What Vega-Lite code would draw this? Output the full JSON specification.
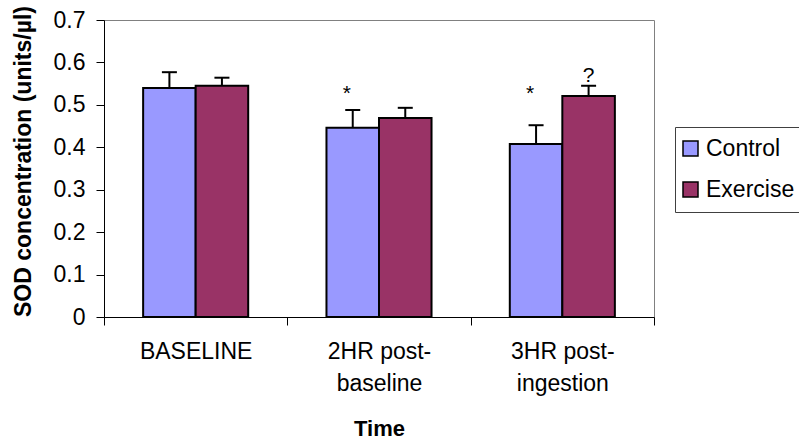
{
  "$schema": "https://vega.github.io/schema/vega-lite/v6.json",
  "width": 550,
  "height": 297,
  "autosize": {"type": "none"},
  "padding": {"left": 104, "top": 20, "right": 145, "bottom": 125},
  "background": "white",
  "config": {
    "view": {"stroke": "#808080", "strokeWidth": 1},
    "font": "Liberation Sans"
  },
  "datasets": {
    "bars": [
      {"time": "BASELINE", "group": "Control", "value": 0.540, "upper": 0.577},
      {"time": "BASELINE", "group": "Exercise", "value": 0.545, "upper": 0.564},
      {"time": "2HR post-baseline", "group": "Control", "value": 0.446, "upper": 0.488},
      {"time": "2HR post-baseline", "group": "Exercise", "value": 0.469, "upper": 0.493},
      {"time": "3HR post-ingestion", "group": "Control", "value": 0.408, "upper": 0.452},
      {"time": "3HR post-ingestion", "group": "Exercise", "value": 0.521, "upper": 0.545}
    ],
    "notes": [
      {"time": "2HR post-baseline", "group": "Control", "symbol": "*", "pos": 0.512},
      {"time": "3HR post-ingestion", "group": "Control", "symbol": "*", "pos": 0.512},
      {"time": "3HR post-ingestion", "group": "Exercise", "symbol": "?", "pos": 0.555}
    ]
  },
  "encoding": {
    "x": {
      "field": "time",
      "type": "nominal",
      "sort": ["BASELINE", "2HR post-baseline", "3HR post-ingestion"],
      "scale": {"paddingInner": 0, "paddingOuter": 0},
      "title": "Time",
      "axis": {
        "labelExpr": "datum.value == '2HR post-baseline' ? ['2HR post-', 'baseline'] : datum.value == '3HR post-ingestion' ? ['3HR post-', 'ingestion'] : datum.value",
        "tickBand": "extent",
        "tickSize": 8,
        "labelPadding": 15,
        "labelAngle": 0,
        "labelFontSize": 23,
        "labelLineHeight": 32,
        "labelColor": "black",
        "domainColor": "black",
        "tickColor": "black",
        "titleFontSize": 22,
        "titleFontWeight": "bold",
        "titleColor": "black",
        "titleY": 118,
        "titleBaseline": "alphabetic"
      }
    },
    "xOffset": {
      "field": "group",
      "type": "nominal",
      "sort": ["Control", "Exercise"],
      "scale": {"paddingInner": 0, "paddingOuter": 0.745}
    }
  },
  "layer": [
    {
      "data": {"name": "bars"},
      "mark": {"type": "bar", "stroke": "black", "strokeWidth": 2},
      "encoding": {
        "y": {
          "field": "value",
          "type": "quantitative",
          "title": "SOD concentration (units/µl)",
          "scale": {"domain": [0, 0.7], "nice": false},
          "axis": {
            "values": [0, 0.1, 0.2, 0.3, 0.4, 0.5, 0.6, 0.7],
            "format": ".1~f",
            "grid": false,
            "tickSize": 8,
            "labelPadding": 11,
            "labelFontSize": 23,
            "labelColor": "black",
            "domainColor": "black",
            "tickColor": "black",
            "titleFontSize": 23,
            "titleFontWeight": "bold",
            "titleColor": "black",
            "titleAngle": 270,
            "titleX": -81,
            "titleY": 141,
            "titleAlign": "center",
            "titleBaseline": "middle"
          }
        },
        "color": {
          "field": "group",
          "type": "nominal",
          "scale": {"domain": ["Control", "Exercise"], "range": ["#9999FF", "#993366"]},
          "legend": {
            "orient": "none",
            "legendX": 571,
            "legendY": 107,
            "title": null,
            "symbolType": "square",
            "symbolSize": 225,
            "symbolStrokeColor": "black",
            "symbolStrokeWidth": 1.5,
            "symbolOffset": -6,
            "labelFontSize": 23,
            "labelColor": "black",
            "labelOffset": 4,
            "strokeColor": "#404040",
            "fillColor": "white",
            "padding": 10,
            "rowPadding": 17
          }
        }
      }
    },
    {
      "data": {"name": "bars"},
      "mark": {"type": "rule", "stroke": "black", "strokeWidth": 2},
      "encoding": {
        "y": {"field": "value", "type": "quantitative", "title": "SOD concentration (units/µl)"},
        "y2": {"field": "upper"}
      }
    },
    {
      "data": {"name": "bars"},
      "mark": {"type": "tick", "color": "black", "thickness": 2, "size": 15, "opacity": 1},
      "encoding": {
        "y": {"field": "upper", "type": "quantitative", "title": "SOD concentration (units/µl)"}
      }
    },
    {
      "data": {"name": "notes"},
      "transform": [{"filter": "datum.symbol == '*'"}],
      "mark": {"type": "text", "fontSize": 21, "dx": -6, "baseline": "alphabetic", "color": "black"},
      "encoding": {
        "y": {"field": "pos", "type": "quantitative", "title": "SOD concentration (units/µl)"},
        "text": {"field": "symbol"}
      }
    },
    {
      "data": {"name": "notes"},
      "transform": [{"filter": "datum.symbol == '?'"}],
      "mark": {"type": "text", "fontSize": 21, "baseline": "alphabetic", "color": "black"},
      "encoding": {
        "y": {"field": "pos", "type": "quantitative", "title": "SOD concentration (units/µl)"},
        "text": {"field": "symbol"}
      }
    }
  ]
}
